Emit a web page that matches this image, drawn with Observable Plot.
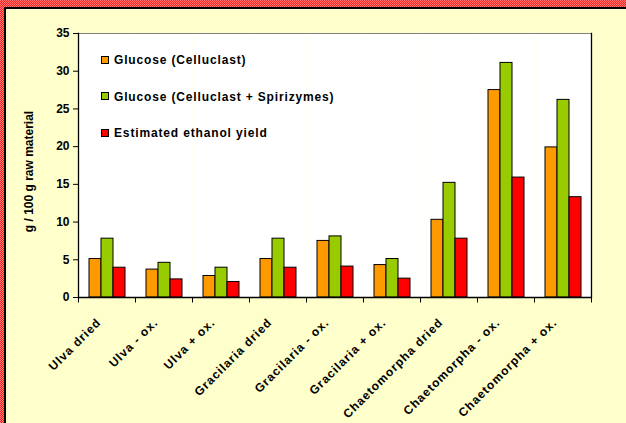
<!DOCTYPE html>
<html>
<head>
<meta charset="utf-8">
<script src="https://cdn.jsdelivr.net/npm/d3@7"></script>
<script src="https://cdn.jsdelivr.net/npm/@observablehq/plot@0.6"></script>
<style>
  html, body { margin: 0; padding: 0; background: #FFFFCC; }
  #wrap { position: relative; width: 626px; height: 423px; overflow: hidden; background: #FFFFCC; font-family: "Liberation Sans", Arial, sans-serif; }
  #chart svg { display: block; }
  .band { position: absolute; background: repeating-conic-gradient(#ff2020 0 25%, #ff7878 0 50%) 0 0 / 2px 2px; }
  .line { position: absolute; background: #000; }
  #legend { position: absolute; left: 101px; top: 53px; font-size: 12px; font-weight: bold; letter-spacing: 0.85px; color: #000; }
  #legend .row { position: absolute; left: 0; height: 14px; line-height: 14px; white-space: nowrap; }
  #legend .sw { display: inline-block; width: 6px; height: 6px; border: 1px solid #000; vertical-align: middle; margin-right: 5px; position: relative; top: -1px; }
  svg [aria-label="fx-axis tick label"] text { letter-spacing: 1px; }
</style>
</head>
<body>
<div id="wrap">
  <div id="chart"></div>
  <div id="legend"></div>
  <div class="band" style="left:0;top:0;width:626px;height:7px"></div>
  <div class="band" style="left:0;top:0;width:4px;height:423px"></div>
  <div class="line" style="left:4px;top:7px;width:622px;height:2px"></div>
  <div class="line" style="left:4px;top:7px;width:2px;height:416px"></div>
</div>
<script>
const categories = ["Ulva dried", "Ulva - ox.", "Ulva + ox.", "Gracilaria dried", "Gracilaria - ox.", "Gracilaria + ox.", "Chaetomorpha dried", "Chaetomorpha - ox.", "Chaetomorpha + ox."];
const series = ["Glucose (Celluclast)", "Glucose (Celluclast + Spirizymes)", "Estimated ethanol yield"];
const glucoseCelluclast = [5.1, 3.7, 2.85, 5.1, 7.5, 4.3, 10.3, 27.5, 19.9];
const glucoseSpirizymes = [7.8, 4.6, 3.95, 7.8, 8.1, 5.1, 15.2, 31.1, 26.2];
const ethanolYield = [3.95, 2.4, 2.05, 3.95, 4.1, 2.5, 7.8, 15.9, 13.3];
const yTicks = [0, 5, 10, 15, 20, 25, 30, 35];
const yLabel = "g / 100 g raw material";
const colors = ["#FF9900", "#99CC00", "#FF0000"];

const seriesValues = [glucoseCelluclast, glucoseSpirizymes, ethanolYield];
const data = categories.flatMap((c, i) => series.map((s, j) => ({category: c, series: s, value: seriesValues[j][i]})));

const tickSymbol = {draw(ctx) { ctx.moveTo(0, 0); ctx.lineTo(0, 5); }};

const chart = Plot.plot({
  width: 626,
  height: 423,
  marginLeft: 77,
  marginRight: 35,
  marginTop: 33,
  marginBottom: 126,
  style: {background: "transparent", fontFamily: "'Liberation Sans', Arial, sans-serif", fontWeight: "bold", fontSize: "12px", color: "#000", overflow: "visible"},
  fx: {domain: categories, padding: 0, label: null, axis: null},
  x: {domain: series, paddingInner: 0, paddingOuter: 0.73, axis: null},
  y: {domain: [0, 35], axis: null},
  color: {domain: series, range: colors},
  marks: [
    Plot.frame({fill: "white", stroke: null}),
    Plot.barY(data, {fx: "category", x: "series", y: "value", fill: "series", stroke: "#000", strokeWidth: 1}),
    Plot.ruleY([35], {stroke: "#808080", strokeWidth: 1}),
    Plot.ruleY([0], {stroke: "#000", strokeWidth: 1.3}),
    Plot.frame({anchor: "left", facetAnchor: "left", stroke: "#000", strokeWidth: 1.3}),
    Plot.frame({anchor: "right", facetAnchor: "right", stroke: "#000", strokeWidth: 1.3}),
    Plot.dot([0], {frameAnchor: "bottom-left", symbol: tickSymbol, stroke: "#000", fill: "none", strokeWidth: 1}),
    Plot.dot([0], {frameAnchor: "bottom-right", facetAnchor: "right", symbol: tickSymbol, stroke: "#000", fill: "none", strokeWidth: 1}),
    Plot.axisY({ticks: yTicks, tickSize: 5, tickPadding: 4, label: null, facetAnchor: "left", fontSize: 12, fontWeight: "bold"}),
    Plot.axisFx({anchor: "bottom", tickRotate: -45, tickSize: 0, tickPadding: 6, dx: -8, dy: 17, label: null, fontSize: 12}),
    Plot.text([yLabel], {frameAnchor: "left", textAnchor: "middle", rotate: -90, dx: -49, dy: 6, facetAnchor: "left", fontSize: 12, fontWeight: "bold", fill: "#000"})
  ]
});
document.getElementById("chart").appendChild(chart);

const legend = document.getElementById("legend");
series.forEach((s, j) => {
  const row = document.createElement("div");
  row.className = "row";
  row.style.top = (j * 36.5) + "px";
  const sw = document.createElement("span");
  sw.className = "sw";
  sw.style.background = colors[j];
  row.appendChild(sw);
  row.appendChild(document.createTextNode(s));
  legend.appendChild(row);
});
</script>
</body>
</html>
